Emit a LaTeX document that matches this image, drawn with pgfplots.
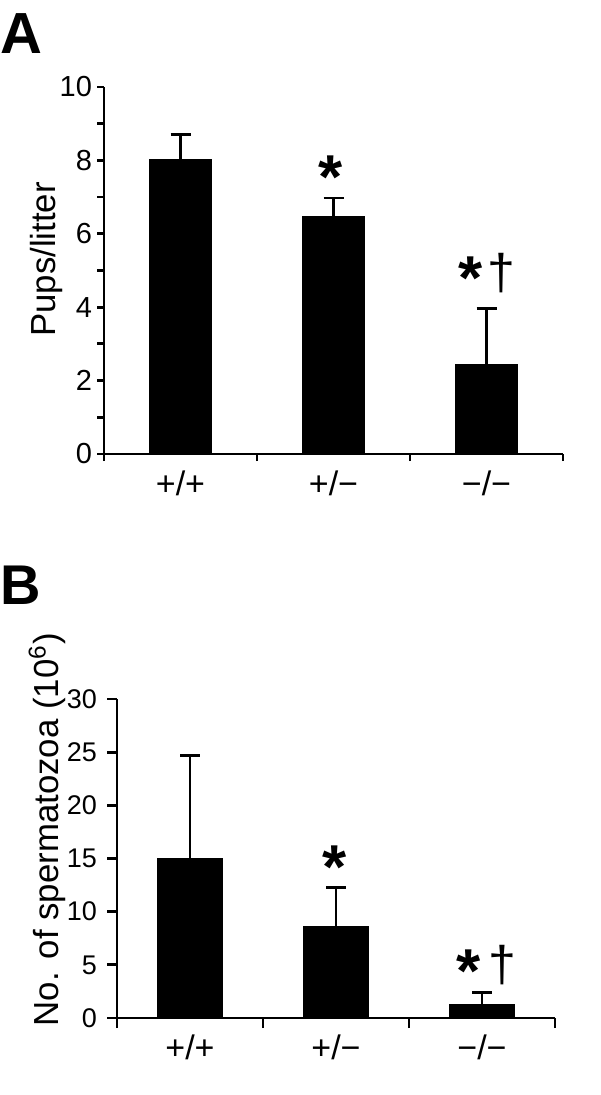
\documentclass[border=0pt]{standalone}
\usepackage{pgfplots}
\pgfplotsset{compat=1.18}
\usepackage{fontspec}
\setmainfont{Liberation Sans}
\begin{document}
\begin{tikzpicture}
\path (0pt,0pt) rectangle (300pt,-547.5pt);
\pgfplotsset{
  panel/.style={
    scale only axis,
    axis x line=bottom, axis y line=left,
    axis line style={line width=1.4pt, -},
    every tick/.style={line width=1.4pt, black},
    tick align=outside,
    xmin=0, xmax=3,
    xtick={0,1,2,3}, xticklabels={},
    extra x ticks={0.5,1.5,2.5},
    extra x tick labels={+/+, +/−, −/−},
    extra x tick style={major tick length=0pt,
      tick label style={font=\fontsize{17}{17}\selectfont, yshift=-5pt}},
    label style={font=\fontsize{17.4}{17.4}\selectfont},
    /pgf/number format/assume math mode=true,
    clip=false,
    ybar,
  },
  bars/.style={fill=black, draw=black, line width=0pt,
    error bars/.cd, y dir=plus, y explicit,
    error bar style={line width=1.3pt, black},
    error mark options={rotate=90, line width=1.3pt, black, mark size=5pt}},
}
\tikzset{
  star/.style={anchor=base, inner sep=0pt, font=\bfseries\fontsize{31}{31}\selectfont},
  dagger/.style={anchor=base, inner sep=0pt, font=\fontsize{25}{25}\selectfont},
}

% Panel A
\node[anchor=north west, inner sep=0pt, font=\bfseries\fontsize{29}{29}\selectfont] at (0pt,-6.5pt) {A};
\begin{axis}[panel,
  at={(52pt,-227pt)}, anchor=south west,
  width=229.5pt, height=183.5pt,
  major tick length=3.5pt, minor tick length=3.5pt,
  ymin=0, ymax=10,
  ytick={0,2,...,10}, minor ytick={1,3,...,9},
  yticklabel style={font=\fontsize{14.5}{14.5}\selectfont, xshift=1pt},
  bar width=0.405,
  ylabel={Pups/litter},
  ylabel style={at={(axis description cs:-0.126,0.53)}, anchor=center},
]
\addplot[bars] coordinates {
  (0.5,8.02) +- (0,0.68)
  (1.5,6.46) +- (0,0.52)
  (2.5,2.44) +- (0,1.52)
};
\node[star] at (axis cs:1.484,6.97) {*};
\node[star] at (axis cs:2.397,4.22) {*};
\node[dagger] at (axis cs:2.598,4.47) {†};
\end{axis}

% Panel B
\node[anchor=north west, inner sep=0pt, font=\bfseries\fontsize{28}{28}\selectfont] at (0pt,-283pt) {B};
\begin{axis}[panel,
  at={(58.5pt,-509pt)}, anchor=south west,
  width=219pt, height=159.5pt,
  major tick length=5pt,
  ymin=0, ymax=30,
  ytick={0,5,...,30},
  yticklabel style={font=\fontsize{13.5}{13.5}\selectfont, xshift=-1.5pt},
  bar width=0.44,
  ylabel={No. of spermatozoa (10\textsuperscript{6})},
  ylabel style={at={(axis description cs:-0.16,0.59)}, anchor=center},
]
\addplot[bars] coordinates {
  (0.5,15.0) +- (0,9.7)
  (1.5,8.6) +- (0,3.7)
  (2.5,1.25) +- (0,1.15)
};
\node[star] at (axis cs:1.493,12.14) {*};
\node[star] at (axis cs:2.41,2.4) {*};
\node[dagger] at (axis cs:2.64,3.39) {†};
\end{axis}
\end{tikzpicture}
\end{document}
